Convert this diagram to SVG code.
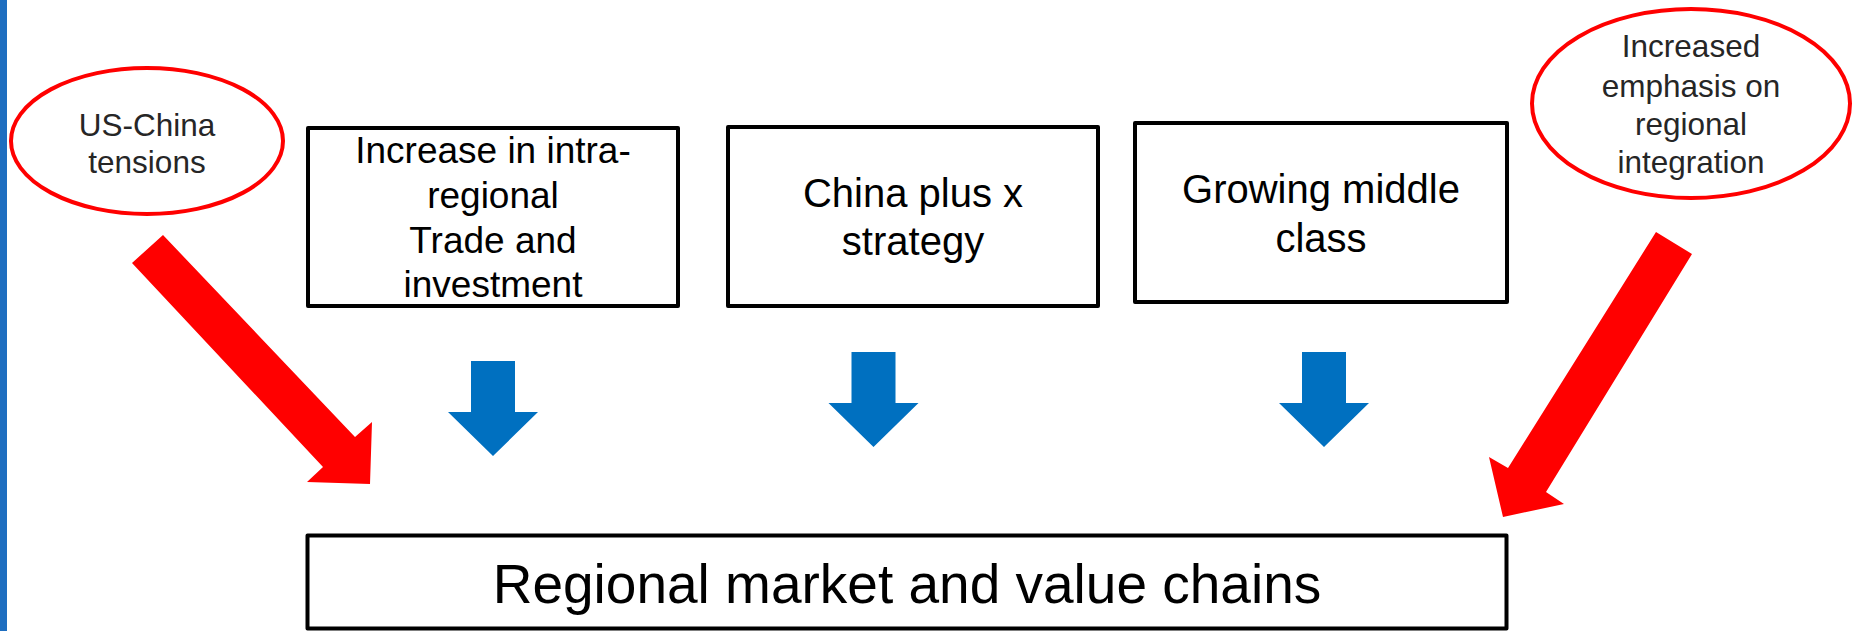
<svg xmlns="http://www.w3.org/2000/svg" xmlns:xlink="http://www.w3.org/1999/xlink" width="1853" height="631" viewBox="0 0 1853 631">
  <style>
    .box { fill: #ffffff; stroke: #000000; stroke-width: 4; stroke-linejoin: round; }
    .oval { fill: #ffffff; stroke: #ff0000; stroke-width: 4; }
    .t { font-family: "Liberation Sans", Arial, sans-serif; text-anchor: middle; fill: #000000; }
    .ot { font-family: "Liberation Sans", Arial, sans-serif; text-anchor: middle; fill: #262626; font-size: 31.5px; }
    .red { fill: #ff0000; }
    .blue { fill: #0070c0; }
  </style>
  <defs>
    <path id="downArrow" d="M -22 -95 L 22 -95 L 22 -44 L 45 -44 L 0 0 L -45 -44 L -22 -44 Z"/>
  </defs>
  <rect x="0" y="0" width="1853" height="631" fill="#ffffff"/>
  <rect x="0" y="0" width="7" height="631" fill="#1e6ec0"/>

  <g id="node-us-china">
    <ellipse class="oval" cx="147" cy="141" rx="136" ry="73"/>
    <text class="ot" x="147" y="136">US-China</text>
    <text class="ot" x="147" y="173">tensions</text>
  </g>

  <g id="node-intra-regional">
    <rect class="box" x="308" y="128" width="370" height="178"/>
    <text class="t" font-size="37" x="493" y="163">Increase in intra-</text>
    <text class="t" font-size="37" x="493" y="208">regional</text>
    <text class="t" font-size="37" x="493" y="253">Trade and</text>
    <text class="t" font-size="37" x="493" y="297">investment</text>
  </g>

  <g id="node-china-plus">
    <rect class="box" x="728" y="127" width="370" height="179"/>
    <text class="t" font-size="40" x="913" y="207">China plus x</text>
    <text class="t" font-size="40" x="913" y="255">strategy</text>
  </g>

  <g id="node-middle-class">
    <rect class="box" x="1135" y="123" width="372" height="179"/>
    <text class="t" font-size="40" x="1321" y="203">Growing middle</text>
    <text class="t" font-size="40" x="1321" y="252">class</text>
  </g>

  <g id="node-regional-integration">
    <ellipse class="oval" cx="1691" cy="103.5" rx="159" ry="94.5"/>
    <text class="ot" x="1691" y="57">Increased</text>
    <text class="ot" x="1691" y="97">emphasis on</text>
    <text class="ot" x="1691" y="135">regional</text>
    <text class="ot" x="1691" y="173">integration</text>
  </g>

  <g id="node-regional-market">
    <rect class="box" x="307.5" y="535.5" width="1199" height="93" stroke-width="5"/>
    <text class="t" font-size="55" x="907" y="603">Regional market and value chains</text>
  </g>

  <g id="connectors">
    <polygon class="red" points="163,235 355,437 372,422 370,484 307,482 323,467 132,263"/>
    <polygon class="red" points="1656,232 1692,254 1546,492 1564,504 1503,517 1489,457 1508,468"/>
    <use xlink:href="#downArrow" href="#downArrow" class="blue" transform="translate(493,456)"/>
    <use xlink:href="#downArrow" href="#downArrow" class="blue" transform="translate(873.5,447)"/>
    <use xlink:href="#downArrow" href="#downArrow" class="blue" transform="translate(1324,447)"/>
  </g>
</svg>
